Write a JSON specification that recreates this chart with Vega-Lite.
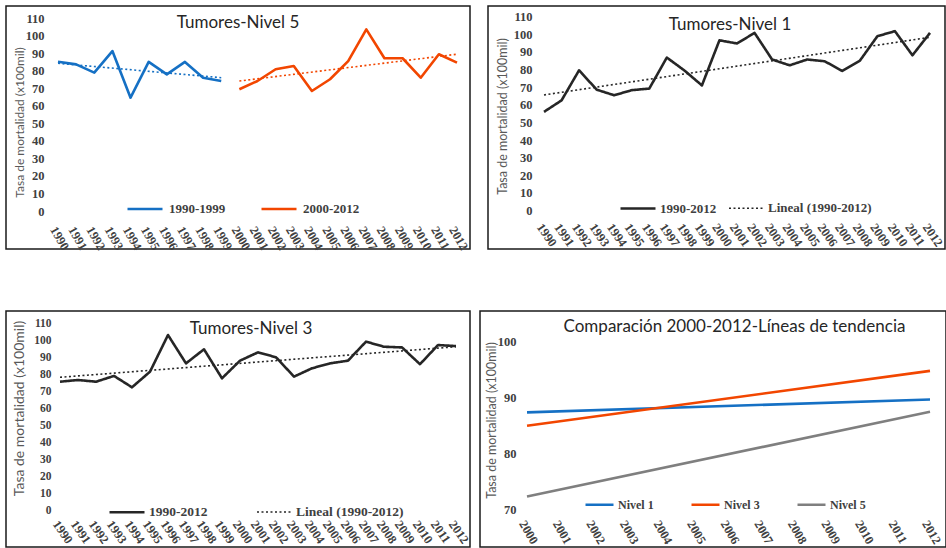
{
  "$schema": "https://vega.github.io/schema/vega-lite/v6.json",
  "padding": {"left": 5, "top": 5, "right": 0, "bottom": 0},
  "background": "white",
  "config": {
    "view": {"stroke": "#1a1a1a", "strokeWidth": 1.5, "fill": "white"},
    "axis": {
      "domain": false, "ticks": false, "grid": false, "tickSize": 0, "labelPadding": 0,
      "labelFont": "Liberation Serif", "labelFontWeight": "bold", "labelFontSize": 12.5, "labelColor": "#404040",
      "labelOverlap": false, "labelFlush": false, "labelBound": false,
      "titleFont": "Lato", "titleFontWeight": "normal", "titleColor": "#595959", "titleFontSize": 12
    },
    "legend": {
      "orient": "none", "direction": "horizontal", "title": null, "padding": 0,
      "labelFont": "Liberation Serif", "labelFontWeight": "bold", "labelFontSize": 13, "labelColor": "#404040",
      "symbolType": "stroke", "symbolStrokeWidth": 2.5
    },
    "title": {"font": "Lato", "fontWeight": "normal", "fontSize": 17, "color": "#262626", "anchor": "middle", "frame": "group", "baseline": "middle"}
  },
  "datasets": {
    "n5": [
      {"year": 1990, "value": 85.2, "seg": "1990-1999"}, {"year": 1991, "value": 83.7, "seg": "1990-1999"},
      {"year": 1992, "value": 79.0, "seg": "1990-1999"}, {"year": 1993, "value": 91.3, "seg": "1990-1999"},
      {"year": 1994, "value": 64.7, "seg": "1990-1999"}, {"year": 1995, "value": 85.1, "seg": "1990-1999"},
      {"year": 1996, "value": 78.0, "seg": "1990-1999"}, {"year": 1997, "value": 85.1, "seg": "1990-1999"},
      {"year": 1998, "value": 76.1, "seg": "1990-1999"}, {"year": 1999, "value": 74.2, "seg": "1990-1999"},
      {"year": 2000, "value": 69.5, "seg": "2000-2012"}, {"year": 2001, "value": 74.2, "seg": "2000-2012"},
      {"year": 2002, "value": 80.9, "seg": "2000-2012"}, {"year": 2003, "value": 82.8, "seg": "2000-2012"},
      {"year": 2004, "value": 68.5, "seg": "2000-2012"}, {"year": 2005, "value": 75.2, "seg": "2000-2012"},
      {"year": 2006, "value": 85.6, "seg": "2000-2012"}, {"year": 2007, "value": 103.7, "seg": "2000-2012"},
      {"year": 2008, "value": 87.2, "seg": "2000-2012"}, {"year": 2009, "value": 87.2, "seg": "2000-2012"},
      {"year": 2010, "value": 76.1, "seg": "2000-2012"}, {"year": 2011, "value": 89.5, "seg": "2000-2012"},
      {"year": 2012, "value": 84.7, "seg": "2000-2012"}
    ],
    "n5t": [
      {"year": 1990, "value": 84.3, "seg": "1990-1999"}, {"year": 1999, "value": 76.1, "seg": "1990-1999"},
      {"year": 2000, "value": 74.2, "seg": "2000-2012"}, {"year": 2012, "value": 89.5, "seg": "2000-2012"}
    ],
    "n1": [
      {"year": 1990, "value": 56, "serie": "1990-2012"}, {"year": 1991, "value": 62.5, "serie": "1990-2012"},
      {"year": 1992, "value": 79.6, "serie": "1990-2012"}, {"year": 1993, "value": 68.6, "serie": "1990-2012"},
      {"year": 1994, "value": 65.4, "serie": "1990-2012"}, {"year": 1995, "value": 68.3, "serie": "1990-2012"},
      {"year": 1996, "value": 69.2, "serie": "1990-2012"}, {"year": 1997, "value": 86.8, "serie": "1990-2012"},
      {"year": 1998, "value": 79.5, "serie": "1990-2012"}, {"year": 1999, "value": 71, "serie": "1990-2012"},
      {"year": 2000, "value": 96.6, "serie": "1990-2012"}, {"year": 2001, "value": 94.8, "serie": "1990-2012"},
      {"year": 2002, "value": 100.8, "serie": "1990-2012"}, {"year": 2003, "value": 85.7, "serie": "1990-2012"},
      {"year": 2004, "value": 82.4, "serie": "1990-2012"}, {"year": 2005, "value": 85.7, "serie": "1990-2012"},
      {"year": 2006, "value": 84.7, "serie": "1990-2012"}, {"year": 2007, "value": 79.2, "serie": "1990-2012"},
      {"year": 2008, "value": 85, "serie": "1990-2012"}, {"year": 2009, "value": 98.9, "serie": "1990-2012"},
      {"year": 2010, "value": 101.8, "serie": "1990-2012"}, {"year": 2011, "value": 88.1, "serie": "1990-2012"},
      {"year": 2012, "value": 100.8, "serie": "1990-2012"},
      {"year": 1990, "value": 65.6, "serie": "Lineal (1990-2012)"}, {"year": 2012, "value": 98.3, "serie": "Lineal (1990-2012)"}
    ],
    "n3": [
      {"year": 1990, "value": 76, "serie": "1990-2012"}, {"year": 1991, "value": 77, "serie": "1990-2012"},
      {"year": 1992, "value": 76, "serie": "1990-2012"}, {"year": 1993, "value": 79.4, "serie": "1990-2012"},
      {"year": 1994, "value": 72.7, "serie": "1990-2012"}, {"year": 1995, "value": 81.9, "serie": "1990-2012"},
      {"year": 1996, "value": 103.5, "serie": "1990-2012"}, {"year": 1997, "value": 86.8, "serie": "1990-2012"},
      {"year": 1998, "value": 95.1, "serie": "1990-2012"}, {"year": 1999, "value": 78, "serie": "1990-2012"},
      {"year": 2000, "value": 88.4, "serie": "1990-2012"}, {"year": 2001, "value": 93.3, "serie": "1990-2012"},
      {"year": 2002, "value": 90.4, "serie": "1990-2012"}, {"year": 2003, "value": 79, "serie": "1990-2012"},
      {"year": 2004, "value": 83.9, "serie": "1990-2012"}, {"year": 2005, "value": 86.8, "serie": "1990-2012"},
      {"year": 2006, "value": 88.4, "serie": "1990-2012"}, {"year": 2007, "value": 99.6, "serie": "1990-2012"},
      {"year": 2008, "value": 96.6, "serie": "1990-2012"}, {"year": 2009, "value": 96.2, "serie": "1990-2012"},
      {"year": 2010, "value": 86.3, "serie": "1990-2012"}, {"year": 2011, "value": 97.6, "serie": "1990-2012"},
      {"year": 2012, "value": 97, "serie": "1990-2012"},
      {"year": 1990, "value": 78.6, "serie": "Lineal (1990-2012)"}, {"year": 2012, "value": 96.6, "serie": "Lineal (1990-2012)"}
    ],
    "cmp": [
      {"year": 2000, "value": 87.4, "nivel": "Nivel 1"}, {"year": 2012, "value": 89.7, "nivel": "Nivel 1"},
      {"year": 2000, "value": 85.0, "nivel": "Nivel 3"}, {"year": 2012, "value": 94.8, "nivel": "Nivel 3"},
      {"year": 2000, "value": 72.4, "nivel": "Nivel 5"}, {"year": 2012, "value": 87.5, "nivel": "Nivel 5"}
    ]
  },
  "spacing": 57,
  "resolve": {
    "scale": {"color": "independent", "stroke": "independent", "strokeDash": "independent", "strokeWidth": "independent"},
    "legend": {"color": "independent", "stroke": "independent", "strokeDash": "independent", "strokeWidth": "independent"}
  },
  "vconcat": [
    {
      "spacing": 18,
      "bounds": "flush",
      "resolve": {
        "scale": {"color": "independent", "stroke": "independent", "strokeDash": "independent", "strokeWidth": "independent"},
        "legend": {"color": "independent", "stroke": "independent", "strokeDash": "independent", "strokeWidth": "independent"}
      },
      "hconcat": [
        {
          "width": 464, "height": 243,
          "title": {"text": "Tumores-Nivel 5", "offset": -26, "dx": 0},
          "resolve": {"scale": {"color": "independent", "stroke": "independent"}},
          "encoding": {
            "x": {"field": "year", "type": "quantitative", "scale": {"domain": [1987.133, 2012.717], "nice": false, "zero": false},
              "axis": {"title": null, "values": [1990,1991,1992,1993,1994,1995,1996,1997,1998,1999,2000,2001,2002,2003,2004,2005,2006,2007,2008,2009,2010,2011,2012], "format": "d", "labelAngle": 60, "labelAlign": "left", "labelBaseline": "top", "offset": -25}},
            "y": {"field": "value", "type": "quantitative", "scale": {"domain": [-21.69, 117.02], "nice": false, "zero": false},
              "axis": {"title": "Tasa de mortalidad (x100mil)", "values": [0,10,20,30,40,50,60,70,80,90,100,110], "format": "d", "offset": -38, "titleX": -25, "titleY": 116, "titleBaseline": "middle", "titleFontSize": 12}}
          },
          "layer": [
            {
              "data": {"name": "n5"},
              "mark": {"type": "line", "strokeWidth": 2.6, "strokeJoin": "round"},
              "encoding": {
                "color": {"field": "seg", "type": "nominal", "scale": {"domain": ["1990-1999", "2000-2012"], "range": ["#1570C4", "#F24600"]},
                  "legend": {"legendX": 120, "legendY": 184, "symbolSize": 1225, "labelOffset": 5, "columnPadding": 30, "labelFontSize": 13}}
              }
            },
            {
              "data": {"name": "n5t"},
              "mark": {"type": "line", "strokeWidth": 1.6, "strokeDash": [2, 2.5]},
              "encoding": {
                "stroke": {"field": "seg", "type": "nominal", "scale": {"domain": ["1990-1999", "2000-2012"], "range": ["#1570C4", "#F24600"]}, "legend": null}
              }
            }
          ]
        },
        {
          "width": 457, "height": 243,
          "title": {"text": "Tumores-Nivel 1", "offset": -28, "dx": 13.5},
          "data": {"name": "n1"},
          "mark": {"type": "line", "color": "#262626", "strokeJoin": "round"},
          "encoding": {
            "x": {"field": "year", "type": "quantitative", "scale": {"domain": [1986.808, 2012.855], "nice": false, "zero": false},
              "axis": {"title": null, "values": [1990,1991,1992,1993,1994,1995,1996,1997,1998,1999,2000,2001,2002,2003,2004,2005,2006,2007,2008,2009,2010,2011,2012], "format": "d", "labelAngle": 55, "labelAlign": "left", "labelBaseline": "top", "offset": -28}},
            "y": {"field": "value", "type": "quantitative", "scale": {"domain": [-21.85, 116.07], "nice": false, "zero": false},
              "axis": {"title": "Tasa de mortalidad (x100mil)", "values": [0,10,20,30,40,50,60,70,80,90,100,110], "format": "d", "offset": -44, "titleX": -30, "titleY": 110, "titleBaseline": "middle", "titleFontSize": 12.5}},
            "strokeDash": {"field": "serie", "type": "nominal", "scale": {"domain": ["1990-2012", "Lineal (1990-2012)"], "range": [[1, 0], [2, 2.5]]},
              "legend": {"legendX": 131, "legendY": 183.5, "symbolSize": 1225, "labelOffset": 3, "columnPadding": 8, "labelFontSize": 13, "symbolStrokeColor": "#262626"}},
            "strokeWidth": {"field": "serie", "type": "nominal", "scale": {"domain": ["1990-2012", "Lineal (1990-2012)"], "range": [2.6, 1.6]}, "legend": null}
          }
        }
      ]
    },
    {
      "spacing": 10,
      "bounds": "flush",
      "resolve": {
        "scale": {"color": "independent", "stroke": "independent", "strokeDash": "independent", "strokeWidth": "independent"},
        "legend": {"color": "independent", "stroke": "independent", "strokeDash": "independent", "strokeWidth": "independent"}
      },
      "hconcat": [
        {
          "width": 464, "height": 236,
          "title": {"text": "Tumores-Nivel 3", "offset": -27, "dx": 13},
          "data": {"name": "n3"},
          "mark": {"type": "line", "color": "#262626", "strokeJoin": "round"},
          "encoding": {
            "x": {"field": "year", "type": "quantitative", "scale": {"domain": [1987.0, 2012.778], "nice": false, "zero": false},
              "axis": {"title": null, "values": [1990,1991,1992,1993,1994,1995,1996,1997,1998,1999,2000,2001,2002,2003,2004,2005,2006,2007,2008,2009,2010,2011,2012], "format": "d", "labelAngle": 55, "labelAlign": "left", "labelBaseline": "top", "offset": -29}},
            "y": {"field": "value", "type": "quantitative", "scale": {"domain": [-21.4, 117.66], "nice": false, "zero": false},
              "axis": {"title": "Tasa de mortalidad (x100mil)", "values": [0,10,20,30,40,50,60,70,80,90,100,110], "format": "d", "offset": -45, "titleX": -32, "titleY": 97, "titleBaseline": "middle", "titleFontSize": 14, "labelFontSize": 11.5}},
            "strokeDash": {"field": "serie", "type": "nominal", "scale": {"domain": ["1990-2012", "Lineal (1990-2012)"], "range": [[1, 0], [2, 2.5]]},
              "legend": {"legendX": 102, "legendY": 182, "symbolSize": 1225, "labelOffset": 3, "columnPadding": 45, "labelFontSize": 13.5, "symbolStrokeColor": "#262626"}},
            "strokeWidth": {"field": "serie", "type": "nominal", "scale": {"domain": ["1990-2012", "Lineal (1990-2012)"], "range": [2.6, 1.6]}, "legend": null}
          }
        },
        {
          "width": 466, "height": 236,
          "title": {"text": "Comparación 2000-2012-Líneas de tendencia", "offset": -25, "dx": 21.5},
          "data": {"name": "cmp"},
          "mark": {"type": "line", "strokeWidth": 2.6},
          "encoding": {
            "x": {"field": "year", "type": "quantitative", "scale": {"domain": [1998.6, 2012.476], "nice": false, "zero": false},
              "axis": {"title": null, "values": [2000,2001,2002,2003,2004,2005,2006,2007,2008,2009,2010,2011,2012], "format": "d", "labelAngle": 60, "labelAlign": "left", "labelBaseline": "top", "offset": -29}},
            "y": {"field": "value", "type": "quantitative", "scale": {"domain": [63.4, 105.47], "nice": false, "zero": false},
              "axis": {"title": "Tasa de mortalidad (x100mil)", "values": [70, 80, 90, 100], "format": "d", "offset": -36, "titleX": -25, "titleY": 109, "titleBaseline": "middle", "titleFontSize": 12.5}},
            "color": {"field": "nivel", "type": "nominal", "scale": {"domain": ["Nivel 1", "Nivel 3", "Nivel 5"], "range": ["#1570C4", "#F24600", "#7F7F7F"]},
              "legend": {"legendX": 104, "legendY": 178, "symbolSize": 784, "labelOffset": 3, "columnPadding": 32, "labelFontSize": 12}}
          }
        }
      ]
    }
  ]
}
